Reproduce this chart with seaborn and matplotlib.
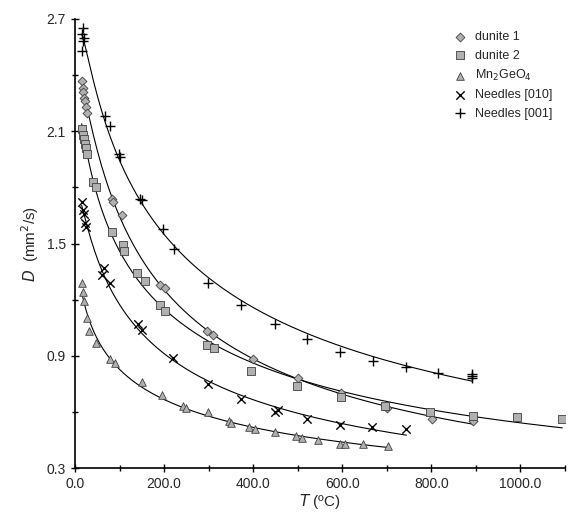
import numpy as np
import matplotlib
matplotlib.use('Agg')
import matplotlib.pyplot as plt
import seaborn as sns
from matplotlib.ticker import MultipleLocator, FixedLocator

# ------------------------------------------------------------------ #
# Data
# ------------------------------------------------------------------ #
dun1_T = [15, 17, 18, 20, 22, 24, 26, 83, 86, 106, 191, 202, 297, 310, 400, 501, 597, 700, 802, 894]
dun1_D = [2.37, 2.33, 2.31, 2.28, 2.26, 2.23, 2.20, 1.74, 1.72, 1.65, 1.28, 1.26, 1.03, 1.01, 0.88, 0.78, 0.70, 0.62, 0.56, 0.55]

dun2_T = [15, 17, 20, 22, 25, 28, 41, 48, 83, 108, 110, 139, 158, 191, 202, 296, 311, 395, 498, 597, 697, 798, 893, 993, 1094]
dun2_D = [2.11, 2.08, 2.06, 2.03, 2.01, 1.98, 1.83, 1.80, 1.56, 1.49, 1.46, 1.34, 1.30, 1.17, 1.14, 0.96, 0.94, 0.82, 0.74, 0.68, 0.63, 0.60, 0.58, 0.57, 0.56]

mn_T = [15, 17, 20, 27, 32, 47, 78, 90, 150, 196, 243, 250, 299, 345, 350, 390, 405, 450, 497, 510, 546, 594, 605, 647, 703]
mn_D = [1.29, 1.24, 1.19, 1.10, 1.03, 0.97, 0.88, 0.86, 0.76, 0.69, 0.63, 0.62, 0.60, 0.55, 0.54, 0.52, 0.51, 0.49, 0.47, 0.46, 0.45, 0.43, 0.43, 0.43, 0.42]

n010_T = [15, 18, 20, 22, 25, 60, 64, 78, 142, 150, 221, 299, 373, 450, 455, 521, 594, 667, 744]
n010_D = [1.72, 1.68, 1.66, 1.61, 1.59, 1.33, 1.37, 1.29, 1.07, 1.04, 0.89, 0.75, 0.67, 0.60, 0.61, 0.56, 0.53, 0.52, 0.51]

n001_T = [17, 15, 20, 18, 15, 67, 78, 99, 100, 146, 150, 198, 222, 299, 373, 450, 521, 594, 669, 744, 816, 892, 892, 892]
n001_D = [2.65, 2.62, 2.60, 2.58, 2.53, 2.18, 2.13, 1.98, 1.96, 1.74, 1.73, 1.58, 1.47, 1.29, 1.17, 1.07, 0.99, 0.92, 0.87, 0.84, 0.81, 0.80, 0.79, 0.78]

x_ticks = [0, 200, 400, 600, 800, 1000]
y_ticks = [0.3, 0.9, 1.5, 2.1, 2.7]

sns.set_theme(style='ticks')
plt.rcParams['font.family'] = ['Liberation Sans', 'DejaVu Sans']

fig = plt.figure(figsize=(5.68, 5.27), dpi=100)
ax = fig.add_axes([75 / 568, 1 - 468 / 527, 490 / 568, 449 / 527])

series = [
    ('dunite 1', dun1_T, dun1_D, 'D', '#b0b0b0', 4.5),
    ('dunite 2', dun2_T, dun2_D, 's', '#b0b0b0', 5.5),
    ('Mn$_2$GeO$_4$', mn_T, mn_D, '^', '#b0b0b0', 5.5),
    ('Needles [010]', n010_T, n010_D, 'x', 'black', 6),
    ('Needles [001]', n001_T, n001_D, '+', 'black', 7),
]

for label, T, D, m, c, s in series:
    T = np.array(T, float)
    D = np.array(D, float)
    # smooth trend line: quadratic fit in log-log space
    coef = np.polyfit(np.log(T), np.log(D), 2)
    tt = np.linspace(T.min(), T.max(), 200)
    ax.plot(tt, np.exp(np.polyval(coef, np.log(tt))), color='black', lw=0.8, zorder=1)
    if m in ('x', '+'):
        sns.scatterplot(x=T, y=D, ax=ax, marker=m, color=c, s=s ** 2, linewidth=1.0,
                        label=label, zorder=3)
    else:
        sns.scatterplot(x=T, y=D, ax=ax, marker=m, color=c, edgecolor='#404040',
                        s=s ** 2, linewidth=0.6, label=label, zorder=3)

ax.set_xlim(0, 1100)
ax.set_ylim(0.3, 2.7)
ax.set_xticks(x_ticks)
ax.set_xticklabels([f'{v:.1f}' for v in x_ticks])
ax.xaxis.set_minor_locator(MultipleLocator(100))
ax.set_yticks(y_ticks)
ax.set_yticklabels([f'{v:.1f}' for v in y_ticks])
ax.yaxis.set_minor_locator(FixedLocator([0.6, 1.2, 1.8, 2.4]))
ax.tick_params(which='both', direction='inout', length=6, width=1, labelsize=10, color='black')
ax.tick_params(which='minor', length=4)
for sp in ('left', 'bottom'):
    ax.spines[sp].set_linewidth(1.2)
    ax.spines[sp].set_color('black')
sns.despine(ax=ax)

ax.set_xlabel('$T$ (ºC)', fontsize=11, labelpad=1)
ax.set_ylabel('$D$  (mm$^2$/s)', fontsize=11, labelpad=4)

ax.legend(loc='upper right', frameon=False, fontsize=9, handletextpad=0.2,
          borderaxespad=0.6, labelspacing=0.5)

fig.savefig('out.png', dpi=100)
